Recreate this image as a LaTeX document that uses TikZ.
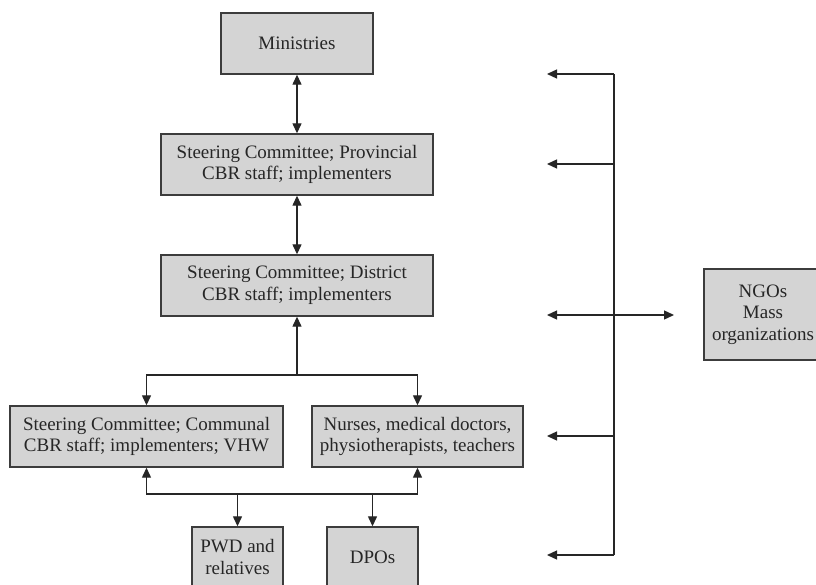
\documentclass[tikz,border=0pt]{standalone}
\usepackage{fontspec}
\setmainfont{Liberation Serif}
\usetikzlibrary{arrows.meta}
\definecolor{boxfill}{HTML}{D4D4D4}
\definecolor{boxline}{HTML}{3C3C3C}
\tikzset{
  orgbox/.style={draw=boxline, line width=1.4pt, fill=boxfill, align=center, inner sep=2pt,
    font=\fontsize{19}{21.7}\selectfont, text=black!85},
  conn/.style={line width=1.3pt, draw=black!85},
  tip/.style={-{Triangle[length=10pt,width=9pt]}},
  tips/.style={{Triangle[length=10pt,width=9pt]}-{Triangle[length=10pt,width=9pt]}}
}
\begin{document}
\begin{tikzpicture}[x=1pt,y=-1pt]
\path[use as bounding box] (0,0) rectangle (816,585);
\clip (0,0) rectangle (816,585);
\fill[white] (0,0) rectangle (816,585);
% nodes
\node[orgbox, minimum width=152pt, minimum height=61pt] (min) at (297,43.5) {Ministries};
\node[orgbox, minimum width=272pt, minimum height=61pt] (prov) at (297,164.5) {Steering Committee; Provincial\\CBR staff; implementers};
\node[orgbox, minimum width=272pt, minimum height=61pt] (dist) at (297,285.5) {Steering Committee; District\\CBR staff; implementers};
\node[orgbox, minimum width=273pt, minimum height=61pt] (comm) at (146.5,436.5) {Steering Committee; Communal\\CBR staff; implementers; VHW};
\node[orgbox, minimum width=211pt, minimum height=61pt] (nurse) at (417.5,436.5) {Nurses, medical doctors,\\physiotherapists, teachers};
\node[orgbox, minimum width=91pt, minimum height=60pt] (pwd) at (237.5,557) {PWD and\\relatives};
\node[orgbox, minimum width=91pt, minimum height=60pt] (dpo) at (372.5,557) {DPOs};
\node[orgbox, minimum width=118pt, minimum height=91pt] (ngo) at (763,314.5) {NGOs\\Mass\\organizations};
% vertical chain
\draw[conn, tips] (min.south) -- (prov.north);
\draw[conn, tips] (prov.south) -- (dist.north);
\coordinate (j1) at (297,375);
\draw[conn, tip] (j1) -- (dist.south);
\draw[conn, tip] (j1) -| (comm.north);
\draw[conn, tip] (j1) -| (nurse.north);
% bottom bus
\coordinate (b1) at (237.5,494);
\coordinate (b2) at (372.5,494);
\draw[conn, tip] (b1) -| (comm.south);
\draw[conn, tip] (b2) -| (nurse.south);
\draw[conn] (b1) -- (b2);
\draw[conn, tip] (b1) -- (pwd.north);
\draw[conn, tip] (b2) -- (dpo.north);
% right bus
\coordinate (rt) at (614,74);
\coordinate (r2) at (614,164);
\coordinate (r3) at (614,315);
\coordinate (r4) at (614,436);
\coordinate (rb) at (614,555);
\coordinate (a1) at (547,74);
\coordinate (a2) at (547,164);
\coordinate (a3) at (547,315);
\coordinate (a4) at (547,436);
\coordinate (a5) at (547,555);
\coordinate (ar) at (674,315);
\draw[conn] (rt) -- (rb);
\draw[conn, tip] (rt) -- (a1);
\draw[conn, tip] (r2) -- (a2);
\draw[conn, tip] (r3) -- (a3);
\draw[conn, tip] (r4) -- (a4);
\draw[conn, tip] (rb) -- (a5);
\draw[conn, tip] (r3) -- (ar);
\end{tikzpicture}
\end{document}
